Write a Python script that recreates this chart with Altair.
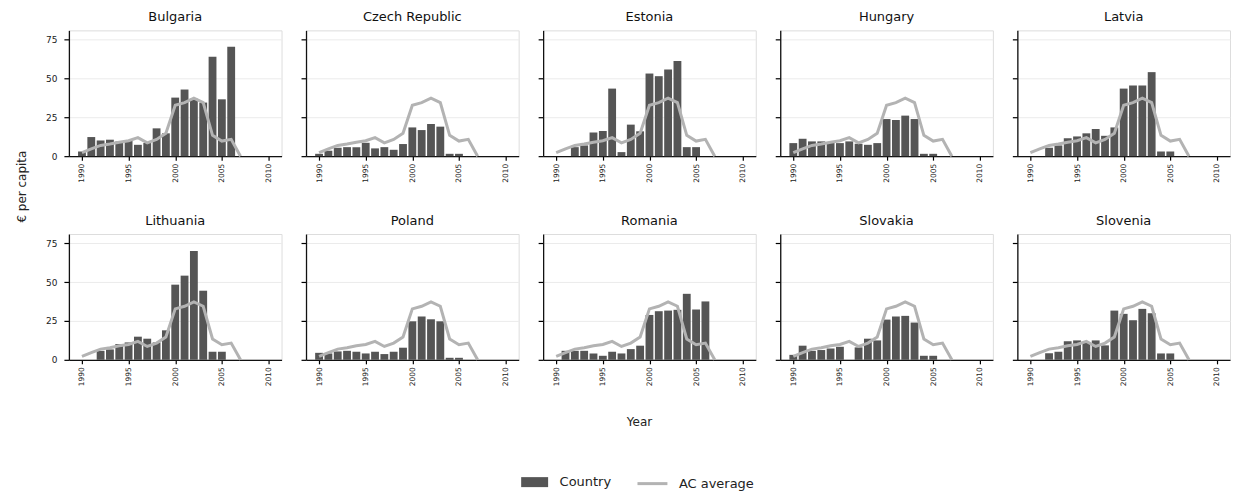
import altair as alt
import pandas as pd

years = list(range(1990, 2011))
countries = ["Bulgaria", "Czech Republic", "Estonia", "Hungary", "Latvia",
             "Lithuania", "Poland", "Romania", "Slovakia", "Slovenia"]

bulgaria = [3, 12.3, 10.1, 10.6, 9.5, 10, 7.3, 8.5, 17.9, 14.7, 37.7, 42.9, 37, 34.5, 64, 36.6, 70.5, 0, 0, 0, 0]
czech = [1.5, 3.5, 5.4, 5.8, 5.8, 8.6, 5, 5.8, 4.1, 7.8, 18.5, 16.8, 20.7, 19, 1.5, 1.5, 0, 0, 0, 0, 0]
estonia = [0, 0, 5.8, 6.9, 15.3, 16.2, 43.5, 2.6, 20.3, 16, 53.2, 51.5, 55.8, 61.2, 5.8, 5.8, 0, 0, 0, 0, 0]
hungary = [8.4, 11.2, 9.5, 9.5, 9, 8.4, 9.5, 8, 7.3, 8.4, 23.9, 23.3, 26.1, 23.9, 1.5, 1.5, 0, 0, 0, 0, 0]
latvia = [0, 0, 5.4, 6.9, 11.6, 12.7, 14.7, 17.5, 13.1, 18.5, 43.5, 45.5, 45.5, 54.1, 3, 3, 0, 0, 0, 0, 0]
lithuania = [0, 0, 5.8, 6.7, 10.2, 11.2, 14.9, 13.6, 11.2, 19, 48.4, 54.2, 70, 44.5, 5.2, 5.2, 0, 0, 0, 0, 0]
poland = [4.5, 4.1, 5.4, 5.8, 5.2, 4.1, 5.2, 3.7, 5.2, 7.8, 24.8, 27.9, 26.1, 24.8, 1.3, 1.3, 0, 0, 0, 0, 0]
romania = [0, 5.8, 5.8, 5.8, 4.1, 2.6, 5.2, 4.1, 6.9, 9.1, 28.9, 31.3, 31.7, 32.2, 42.5, 32.4, 37.6, 0, 0, 0, 0]
slovakia = [3.2, 9.1, 5.8, 6.3, 7.3, 8.4, 0, 8, 13.6, 12.5, 25.9, 27.9, 28.3, 24, 2.6, 2.6, 0, 0, 0, 0, 0]
slovenia = [0, 0, 4.3, 5.2, 11.9, 12.5, 11.2, 12.5, 9.3, 31.7, 29.6, 25.5, 32.8, 30, 4.1, 4.1, 0, 0, 0, 0, 0]

ac_years = list(range(1990, 2008))
ac_average = [2.2, 4.7, 6.9, 7.8, 9, 9.9, 11.9, 8.6, 10.8, 14.7, 32.8, 34.5, 37.3, 34.5, 13.4, 9.7, 10.8, 0]

series_values = [bulgaria, czech, estonia, hungary, latvia,
                 lithuania, poland, romania, slovakia, slovenia]

rows = []
for c, vals in zip(countries, series_values):
    for y, v in zip(years, vals):
        rows.append({"country": c, "year": y, "value": v, "series": "Country"})
df_bars = pd.DataFrame(rows)
df_line = pd.DataFrame({"year": ac_years, "value": ac_average, "series": "AC average"})

FONT = "DejaVu Sans"
BAR = "#555555"
LINE = "#b3b3b3"
TXT = "#222222"

xscale = alt.Scale(domain=[1988.6, 2011.4], nice=False, zero=False)
yscale = alt.Scale(domain=[0, 81], nice=False)


def panel(name, idx):
    first_col = idx % 5 == 0
    xkw = dict(values=[1990, 1995, 2000, 2005, 2010], format="d", labelAngle=-90,
               labelFontSize=7.5, grid=False, tickSize=4, tickColor="black", tickWidth=1.2,
               domainColor="#111", domainWidth=1.3, labelColor=TXT, labelPadding=3, labelFont=FONT)
    if name == "Romania":
        xaxis = alt.Axis(title="Year", titleFontSize=12, titleFontWeight="normal", titleFont=FONT,
                         titleColor=TXT, titleX=96, titleY=62, titleAngle=0,
                         titleAlign="center", titleBaseline="middle", **xkw)
    else:
        xaxis = alt.Axis(title=None, **xkw)
    ykw = dict(values=[0, 25, 50, 75], labels=first_col, labelFontSize=9,
               grid=True, gridColor="#ebebeb", gridWidth=1, tickSize=5, tickColor="black", tickWidth=1.2,
               domainColor="#111", domainWidth=1.3, labelColor=TXT, labelPadding=7, labelFont=FONT)
    if name == "Bulgaria":
        yaxis = alt.Axis(title="€ per capita", titleFontSize=12, titleFontWeight="normal",
                         titleFont=FONT, titleColor=TXT, titleX=-47, titleY=156, titleAngle=270,
                         titleAlign="center", titleBaseline="middle", **ykw)
    else:
        yaxis = alt.Axis(title=None, **ykw)

    bars = alt.Chart(df_bars).transform_filter(
        alt.datum.country == name
    ).transform_calculate(
        x0="datum.year - 0.42", x1="datum.year + 0.42"
    ).mark_bar().encode(
        x=alt.X("x0:Q", scale=xscale, axis=xaxis),
        x2="x1:Q",
        y=alt.Y("value:Q", scale=yscale, axis=yaxis),
        y2=alt.datum(0),
        fill=alt.Fill("series:N", scale=alt.Scale(domain=["Country"], range=[BAR]),
                      legend=alt.Legend(title=None, orient="none", legendX=456.5, legendY=442.5,
                                        symbolType="M-1.35,-0.5H1.35V0.5H-1.35Z", symbolSize=400,
                                        symbolStrokeWidth=0, labelFontSize=13, labelOffset=15,
                                        labelFont=FONT, labelColor=TXT, padding=0)),
    )
    line = alt.Chart(df_line).mark_line(strokeWidth=3).encode(
        x=alt.X("year:Q", scale=xscale),
        y=alt.Y("value:Q", scale=yscale),
        stroke=alt.Stroke("series:N", scale=alt.Scale(domain=["AC average"], range=[LINE]),
                          legend=alt.Legend(title=None, orient="none", legendX=568, legendY=437.5,
                                            symbolType="stroke", symbolSize=900, symbolStrokeWidth=3,
                                            labelFontSize=13, labelOffset=10, labelFont=FONT,
                                            labelColor=TXT, padding=0)),
    )
    return alt.layer(bars, line).properties(
        width=213, height=126,
        title=alt.TitleParams(name, fontSize=13, fontWeight="normal", font=FONT, offset=6, color="#111"),
    )


chart = alt.concat(
    *[panel(c, i) for i, c in enumerate(countries)],
    columns=5, bounds="flush", spacing={"row": 78, "column": 24.5},
).resolve_scale(
    fill="shared", stroke="shared"
).properties(
    padding={"left": 7, "top": 2, "right": 0, "bottom": 2},
).configure_view(
    stroke="#111", strokeWidth=1.3
).configure(font=FONT)

chart.save("out.html", embed_options={"renderer": "svg", "actions": False})
